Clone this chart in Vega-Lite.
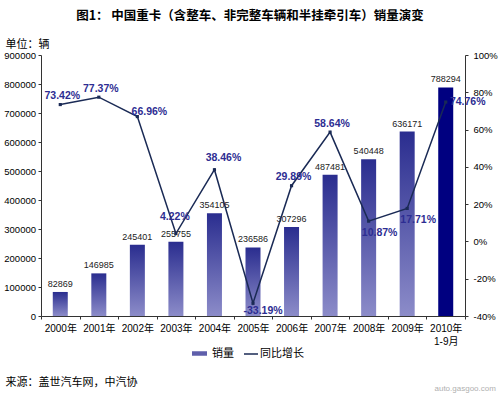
{
  "$schema": "https://vega.github.io/schema/vega-lite/v6.json",
  "width": 424,
  "height": 261,
  "autosize": {"type": "none"},
  "padding": {"left": 41, "top": 55, "right": 35, "bottom": 81},
  "background": "white",
  "config": {
    "view": {"stroke": null},
    "font": "Liberation Sans, Noto Sans CJK SC",
    "locale": {"number": {"decimal": ".", "thousands": ",", "grouping": [3], "currency": ["$", ""], "minus": "-"}}
  },
  "title": {
    "text": "图1：  中国重卡（含整车、非完整车辆和半挂牵引车）销量演变",
    "font": "Noto Sans CJK SC",
    "fontSize": 12.5,
    "fontWeight": "bold",
    "color": "#000000",
    "anchor": "middle",
    "offset": 16,
    "dx": -3
  },
  "data": {
    "values": [
      {"year": "2000年", "sales": 82869, "growth": 0.7342},
      {"year": "2001年", "sales": 146985, "growth": 0.7737},
      {"year": "2002年", "sales": 245401, "growth": 0.6696},
      {"year": "2003年", "sales": 255755, "growth": 0.0422},
      {"year": "2004年", "sales": 354105, "growth": 0.3846},
      {"year": "2005年", "sales": 236586, "growth": -0.3319},
      {"year": "2006年", "sales": 307296, "growth": 0.2989},
      {"year": "2007年", "sales": 487481, "growth": 0.5864},
      {"year": "2008年", "sales": 540448, "growth": 0.1087},
      {"year": "2009年", "sales": 636171, "growth": 0.1771},
      {"year": "2010年1-9月", "sales": 788294, "growth": 0.7476}
    ]
  },
  "encoding": {
    "x": {
      "field": "year",
      "type": "nominal",
      "scale": {"paddingInner": 0, "paddingOuter": 0},
      "axis": {
        "labelAngle": 0,
        "labelFontSize": 10,
        "labelColor": "#000000",
        "labelPadding": 4,
        "labelLineHeight": 13,
        "labelExpr": "datum.value == '2010年1-9月' ? ['2010年', '1-9月'] : datum.value",
        "tickBand": "extent",
        "tickSize": 3,
        "tickColor": "#333333",
        "domainColor": "#333333",
        "title": "来源：盖世汽车网，中汽协",
        "titleX": -36,
        "titleY": 66,
        "titleAlign": "left",
        "titleBaseline": "middle",
        "titleFont": "Noto Sans CJK SC",
        "titleFontSize": 11,
        "titleFontWeight": "normal",
        "titleColor": "#000000"
      }
    }
  },
  "layer": [
    {
      "encoding": {
        "y": {
          "field": "sales",
          "type": "quantitative",
          "scale": {"domain": [0, 900000]},
          "axis": {
            "values": [0, 100000, 200000, 300000, 400000, 500000, 600000, 700000, 800000, 900000],
            "format": "d",
            "grid": false,
            "tickSize": 3,
            "labelPadding": 2.5,
            "labelFontSize": 9.5,
            "labelColor": "#000000",
            "domainColor": "#333333",
            "tickColor": "#333333",
            "title": "单位：辆",
            "titleAngle": 0,
            "titleX": -36,
            "titleY": -11,
            "titleAlign": "left",
            "titleBaseline": "middle",
            "titleFont": "Noto Sans CJK SC",
            "titleFontSize": 11,
            "titleFontWeight": "normal",
            "titleColor": "#000000"
          }
        }
      },
      "layer": [
        {
          "transform": [{"filter": "datum.year != '2010年1-9月'"}],
          "mark": {
            "type": "bar",
            "width": 15,
            "color": {"gradient": "linear", "x1": 0, "y1": 0, "x2": 0, "y2": 1,
                      "stops": [{"offset": 0, "color": "#2a2d8f"}, {"offset": 1, "color": "#8c8cc9"}]}
          }
        },
        {
          "transform": [{"filter": "datum.year == '2010年1-9月'"}],
          "mark": {"type": "bar", "width": 15, "color": "#000080"}
        },
        {
          "mark": {"type": "bar", "width": 15},
          "encoding": {
            "y": {"datum": 0, "type": "quantitative"},
            "fill": {
              "datum": "销量",
              "scale": {"range": ["#5f5fab"]},
              "legend": {
                "orient": "none",
                "legendX": 151,
                "legendY": 291,
                "title": null,
                "padding": 0,
                "symbolType": "M-1,-0.3H1V0.3H-1Z",
                "symbolSize": 225,
                "symbolStrokeWidth": 0,
                "labelFont": "Noto Sans CJK SC",
                "labelFontSize": 11,
                "labelColor": "#000000",
                "labelOffset": 5
              }
            }
          }
        },
        {
          "mark": {"type": "text", "baseline": "bottom", "dy": -3, "fontSize": 9, "color": "#222222"},
          "encoding": {"text": {"field": "sales", "type": "quantitative", "format": "d"}}
        }
      ]
    },
    {
      "encoding": {
        "y": {
          "field": "growth",
          "type": "quantitative",
          "scale": {"domain": [-0.4, 1]},
          "axis": {
            "orient": "right",
            "values": [-0.4, -0.2, 0, 0.2, 0.4, 0.6, 0.8, 1],
            "format": ".0%",
            "grid": false,
            "tickSize": 3,
            "labelPadding": 5,
            "labelFontSize": 9.5,
            "labelColor": "#000000",
            "domainColor": "#333333",
            "tickColor": "#333333",
            "title": "auto.gasgoo.com",
            "titleAngle": 0,
            "titleX": -31,
            "titleY": 333,
            "titleAlign": "left",
            "titleBaseline": "middle",
            "titleFontSize": 8,
            "titleFontWeight": "normal",
            "titleColor": "#b0b0b0"
          }
        }
      },
      "layer": [
        {
          "mark": {"type": "line", "strokeWidth": 1.5},
          "encoding": {
            "stroke": {
              "datum": "同比增长",
              "scale": {"range": ["#1a2a55"]},
              "legend": {
                "orient": "none",
                "legendX": 202,
                "legendY": 291,
                "title": null,
                "padding": 0,
                "symbolType": "stroke",
                "symbolSize": 196,
                "symbolStrokeWidth": 1.5,
                "labelFont": "Noto Sans CJK SC",
                "labelFontSize": 11,
                "labelColor": "#000000",
                "labelOffset": 1
              }
            }
          }
        },
        {
          "mark": {"type": "point", "shape": "square", "filled": true, "size": 10, "color": "#1a2a55", "opacity": 1}
        },
        {
          "transform": [{"filter": {"field": "year", "oneOf": ["2000年", "2001年", "2006年", "2007年"]}}],
          "mark": {"type": "text", "dx": 2, "dy": -8.5, "fontSize": 10.5, "fontWeight": "bold", "color": "#2d2d92", "baseline": "middle"},
          "encoding": {"text": {"field": "growth", "type": "quantitative", "format": ".2%"}}
        },
        {
          "transform": [{"filter": {"field": "year", "oneOf": ["2002年"]}}],
          "mark": {"type": "text", "dx": 12, "dy": -5, "fontSize": 10.5, "fontWeight": "bold", "color": "#2d2d92", "baseline": "middle"},
          "encoding": {"text": {"field": "growth", "type": "quantitative", "format": ".2%"}}
        },
        {
          "transform": [{"filter": {"field": "year", "oneOf": ["2003年"]}}],
          "mark": {"type": "text", "dx": -1, "dy": -17, "fontSize": 10.5, "fontWeight": "bold", "color": "#2d2d92", "baseline": "middle"},
          "encoding": {"text": {"field": "growth", "type": "quantitative", "format": ".2%"}}
        },
        {
          "transform": [{"filter": {"field": "year", "oneOf": ["2004年"]}}],
          "mark": {"type": "text", "dx": 9, "dy": -12, "fontSize": 10.5, "fontWeight": "bold", "color": "#2d2d92", "baseline": "middle"},
          "encoding": {"text": {"field": "growth", "type": "quantitative", "format": ".2%"}}
        },
        {
          "transform": [{"filter": {"field": "year", "oneOf": ["2005年"]}}],
          "mark": {"type": "text", "dx": 10, "dy": 7.5, "fontSize": 10.5, "fontWeight": "bold", "color": "#2d2d92", "baseline": "middle"},
          "encoding": {"text": {"field": "growth", "type": "quantitative", "format": ".2%"}}
        },
        {
          "transform": [{"filter": {"field": "year", "oneOf": ["2008年", "2009年"]}}],
          "mark": {"type": "text", "dx": 11, "dy": 11.5, "fontSize": 10.5, "fontWeight": "bold", "color": "#2d2d92", "baseline": "middle"},
          "encoding": {"text": {"field": "growth", "type": "quantitative", "format": ".2%"}}
        },
        {
          "transform": [{"filter": {"field": "year", "oneOf": ["2010年1-9月"]}}],
          "mark": {"type": "text", "dx": 22, "dy": 0, "fontSize": 10.5, "fontWeight": "bold", "color": "#2d2d92", "baseline": "middle"},
          "encoding": {"text": {"field": "growth", "type": "quantitative", "format": ".2%"}}
        }
      ]
    }
  ],
  "resolve": {"scale": {"y": "independent"}}
}
